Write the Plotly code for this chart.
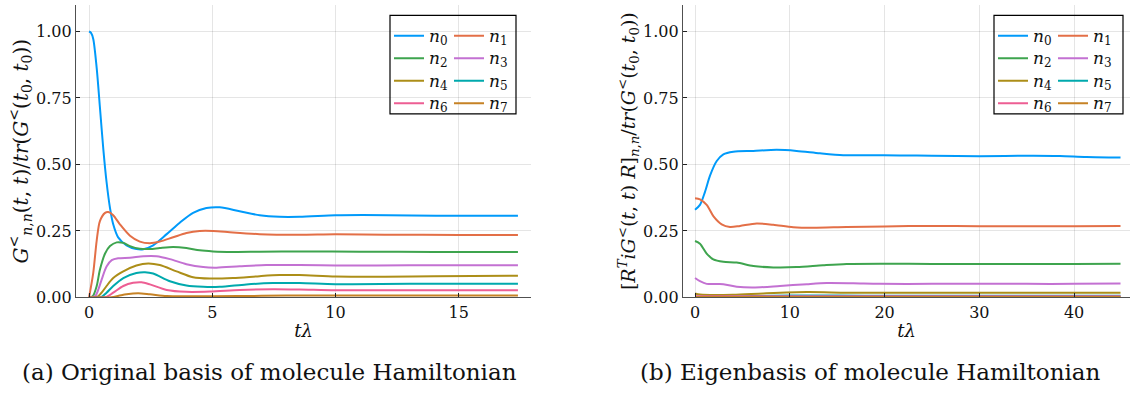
import plotly.graph_objects as go

# ---------------- data: (a) original basis ----------------
a_n0_t = [0, 0.08, 0.17, 0.31, 0.44, 0.58, 0.71, 0.85, 0.98, 1.18, 1.52, 1.92, 2.2, 2.6, 3.15, 3.68, 4.22, 4.76, 5.3, 6.11, 6.92, 7.73, 8.54, 10.0, 11.1, 13.1, 15.0, 17.4]
a_n0_v = [1.0, 0.995, 0.972, 0.862, 0.715, 0.556, 0.434, 0.336, 0.275, 0.226, 0.196, 0.182, 0.181, 0.196, 0.238, 0.281, 0.318, 0.336, 0.339, 0.324, 0.309, 0.303, 0.303, 0.309, 0.310, 0.308, 0.307, 0.307]
a_n1_t = [0, 0.17, 0.31, 0.44, 0.65, 0.78, 0.98, 1.25, 1.66, 2.06, 2.47, 2.87, 3.41, 3.95, 4.49, 5.03, 5.84, 6.92, 8.54, 10.0, 12.0, 15.0, 17.4]
a_n1_v = [0, 0.092, 0.214, 0.287, 0.318, 0.321, 0.309, 0.275, 0.232, 0.210, 0.204, 0.210, 0.226, 0.242, 0.250, 0.250, 0.244, 0.238, 0.236, 0.238, 0.236, 0.235, 0.235]
a_n2_t = [0, 0.15, 0.31, 0.44, 0.65, 0.85, 1.12, 1.39, 1.66, 2.06, 2.47, 2.87, 3.41, 3.95, 4.49, 5.03, 5.84, 6.92, 8.54, 11.0, 14.0, 17.4]
a_n2_v = [0, 0.005, 0.043, 0.104, 0.165, 0.193, 0.207, 0.205, 0.193, 0.183, 0.182, 0.186, 0.190, 0.186, 0.177, 0.173, 0.171, 0.172, 0.173, 0.172, 0.171, 0.171]
a_n3_t = [0, 0.25, 0.38, 0.51, 0.71, 0.92, 1.18, 1.66, 2.2, 2.74, 3.28, 3.95, 4.63, 5.17, 6.11, 7.19, 8.54, 10.0, 13.0, 17.4]
a_n3_v = [0, 0.005, 0.031, 0.067, 0.116, 0.140, 0.147, 0.149, 0.155, 0.155, 0.144, 0.125, 0.114, 0.112, 0.117, 0.122, 0.122, 0.120, 0.121, 0.121]
a_n4_t = [0, 0.35, 0.51, 0.71, 0.98, 1.39, 1.92, 2.4, 2.87, 3.55, 4.22, 4.9, 5.84, 6.92, 7.73, 8.54, 10.0, 12.0, 14.0, 17.4]
a_n4_v = [0, 0.003, 0.018, 0.043, 0.073, 0.098, 0.120, 0.128, 0.122, 0.098, 0.076, 0.071, 0.073, 0.080, 0.084, 0.084, 0.079, 0.078, 0.080, 0.082]
a_n5_t = [0, 0.5, 0.71, 0.98, 1.39, 1.92, 2.27, 2.6, 3.28, 3.95, 4.63, 5.3, 6.38, 7.46, 8.54, 10.0, 13.0, 17.4]
a_n5_v = [0, 0.002, 0.018, 0.043, 0.073, 0.092, 0.095, 0.090, 0.061, 0.045, 0.040, 0.040, 0.049, 0.054, 0.054, 0.050, 0.051, 0.051]
a_n6_t = [0, 0.7, 0.98, 1.39, 1.79, 2.13, 2.47, 3.15, 3.95, 4.9, 6.11, 7.46, 8.54, 10.0, 13.0, 17.4]
a_n6_v = [0, 0.002, 0.018, 0.043, 0.055, 0.057, 0.049, 0.028, 0.021, 0.022, 0.028, 0.031, 0.030, 0.027, 0.027, 0.027]
a_n7_t = [0, 0.9, 1.2, 1.52, 1.99, 2.47, 3.15, 4.0, 6.0, 8.0, 10.0, 13.0, 17.4]
a_n7_v = [0, 0.001, 0.006, 0.012, 0.016, 0.012, 0.005, 0.004, 0.005, 0.007, 0.007, 0.007, 0.007]

# ---------------- data: (b) eigenbasis ----------------
b_n0_t = [0, 0.52, 1.05, 1.58, 2.29, 2.99, 4.04, 6.15, 8.61, 10.72, 13.18, 15.64, 18.1, 21.6, 25.0, 30.0, 35.7, 38.5, 41.3, 44.9]
b_n0_v = [0.330, 0.348, 0.397, 0.458, 0.513, 0.538, 0.548, 0.551, 0.555, 0.551, 0.542, 0.535, 0.535, 0.534, 0.533, 0.531, 0.533, 0.532, 0.528, 0.526]
b_n1_t = [0, 0.52, 1.23, 1.93, 2.81, 3.69, 4.75, 6.5, 8.26, 10.37, 12.48, 16.0, 20.0, 25.0, 30.0, 35.0, 40.0, 44.9]
b_n1_v = [0.373, 0.369, 0.348, 0.306, 0.275, 0.265, 0.269, 0.278, 0.273, 0.264, 0.262, 0.265, 0.267, 0.269, 0.268, 0.268, 0.268, 0.269]
b_n2_t = [0, 0.52, 1.23, 1.93, 2.99, 4.4, 6.15, 8.26, 10.72, 13.5, 16.0, 20.0, 25.0, 30.0, 35.0, 40.0, 44.9]
b_n2_v = [0.212, 0.202, 0.165, 0.143, 0.134, 0.131, 0.118, 0.113, 0.114, 0.121, 0.126, 0.127, 0.126, 0.126, 0.126, 0.126, 0.127]
b_n3_t = [0, 0.52, 1.23, 2.99, 4.4, 6.15, 8.96, 11.8, 13.9, 16.7, 19.5, 25.0, 30.0, 35.0, 40.0, 44.9]
b_n3_v = [0.073, 0.061, 0.051, 0.050, 0.040, 0.037, 0.043, 0.050, 0.054, 0.053, 0.051, 0.051, 0.051, 0.051, 0.051, 0.052]
b_n4_t = [0, 0.52, 4.0, 7.2, 11.8, 16.0, 20.0, 30.0, 40.0, 44.9]
b_n4_v = [0.015, 0.011, 0.010, 0.015, 0.020, 0.018, 0.018, 0.018, 0.018, 0.018]
b_n5_t = [0, 3.0, 6.0, 10.0, 15.0, 20.0, 30.0, 44.9]
b_n5_v = [0.003, 0.003, 0.005, 0.007, 0.007, 0.006, 0.006, 0.006]
b_n6_t = [0, 10.0, 20.0, 30.0, 44.9]
b_n6_v = [0.004, 0.004, 0.004, 0.004, 0.004]
b_n7_t = [0, 10.0, 20.0, 30.0, 44.9]
b_n7_v = [0.002, 0.002, 0.002, 0.002, 0.002]

series_a = [(a_n0_t, a_n0_v), (a_n1_t, a_n1_v), (a_n2_t, a_n2_v), (a_n3_t, a_n3_v),
            (a_n4_t, a_n4_v), (a_n5_t, a_n5_v), (a_n6_t, a_n6_v), (a_n7_t, a_n7_v)]
series_b = [(b_n0_t, b_n0_v), (b_n1_t, b_n1_v), (b_n2_t, b_n2_v), (b_n3_t, b_n3_v),
            (b_n4_t, b_n4_v), (b_n5_t, b_n5_v), (b_n6_t, b_n6_v), (b_n7_t, b_n7_v)]

colors = ["#009AFA", "#E36F47", "#3EA44E", "#C371D2", "#AC8E18", "#00A9AD", "#ED5E93", "#C68225"]
y_ticks = [0, 0.25, 0.5, 0.75, 1.0]
y_ticktext = ["0.00", "0.25", "0.50", "0.75", "1.00"]
xa_ticks = [0, 5, 10, 15]
xb_ticks = [0, 10, 20, 30, 40]

FONT = "DejaVu Serif"
W, H = 1131, 403

def name(i):
    return ("<span style='font-size:17px'><i>n</i></span>"
            "<sub><span style='font-size:12px'>%d</span></sub>" % i)

fig = go.Figure()
for i, (t, v) in enumerate(series_a):
    fig.add_trace(go.Scatter(x=t, y=v, mode="lines", name=name(i),
                             line=dict(color=colors[i], width=2, shape="spline", smoothing=0.8),
                             xaxis="x", yaxis="y",
                             legend="legend" if i % 2 == 0 else "legend2"))
for i, (t, v) in enumerate(series_b):
    fig.add_trace(go.Scatter(x=t, y=v, mode="lines", name=name(i),
                             line=dict(color=colors[i], width=2, shape="spline", smoothing=0.8),
                             xaxis="x2", yaxis="y2",
                             legend="legend3" if i % 2 == 0 else "legend4"))

ydom = [(H - 305) / H, (H - 5) / H]
axis_common = dict(showline=True, linecolor="#505050", linewidth=1.2, mirror=False,
                   showgrid=True, gridcolor="rgba(0,0,0,0.1)", gridwidth=1,
                   zeroline=False, ticks="inside", ticklen=4, tickcolor="#222",
                   tickfont=dict(family=FONT, size=16, color="#111"))

ylab_a = ("<i>G</i><sup>&lt;</sup><sub><i>n</i>,<i>n</i></sub>(<i>t</i>, <i>t</i>)/<i>tr</i>"
          "(<i>G</i><sup>&lt;</sup>(<i>t</i><sub>0</sub>, <i>t</i><sub>0</sub>))")
ylab_b = ("[<i>R</i><sup><i>T</i></sup><i>iG</i><sup>&lt;</sup>(<i>t</i>, <i>t</i>) <i>R</i>]"
          "<sub><i>n</i>,<i>n</i></sub>/<i>tr</i>(<i>G</i><sup>&lt;</sup>(<i>t</i><sub>0</sub>, <i>t</i><sub>0</sub>))")

fig.update_layout(
    width=W, height=H, margin=dict(l=0, r=0, t=0, b=0),
    paper_bgcolor="white", plot_bgcolor="white",
    font=dict(family=FONT, color="#111"),
    xaxis=dict(domain=[76 / W, 531 / W], range=[-0.53, 17.93], tickvals=xa_ticks,
               title=dict(text="<i>tλ</i>", font=dict(family=FONT, size=18), standoff=3),
               anchor="y", **axis_common),
    yaxis=dict(domain=ydom, range=[0, 1.1], tickvals=y_ticks, ticktext=y_ticktext,
               title=dict(text=ylab_a, font=dict(family=FONT, size=20), standoff=2),
               anchor="x", **axis_common),
    xaxis2=dict(domain=[683 / W, 1130 / W], range=[-1.27, 45.9], tickvals=xb_ticks,
                title=dict(text="<i>tλ</i>", font=dict(family=FONT, size=18), standoff=3),
                anchor="y2", **axis_common),
    yaxis2=dict(domain=ydom, range=[0, 1.1], tickvals=y_ticks, ticktext=y_ticktext,
                title=dict(text=ylab_b, font=dict(family=FONT, size=19), standoff=2),
                anchor="x2", **axis_common),
)

leg_common = dict(bgcolor="rgba(0,0,0,0)", borderwidth=0, xanchor="left", yanchor="top",
                  font=dict(family=FONT, size=15, color="#111"), tracegroupgap=0)
fig.update_layout(
    legend=dict(x=389 / W, y=1 - 20 / H, **leg_common),
    legend2=dict(x=449 / W, y=1 - 20 / H, **leg_common),
    legend3=dict(x=993 / W, y=1 - 20 / H, **leg_common),
    legend4=dict(x=1053 / W, y=1 - 20 / H, **leg_common),
)

# legend frames
for (x0, x1) in [(390, 516), (994, 1123)]:
    fig.add_shape(type="rect", xref="paper", yref="paper",
                  x0=x0 / W, x1=x1 / W, y0=1 - 116.7 / H, y1=1 - 15.7 / H,
                  line=dict(color="black", width=1.2), fillcolor="white", layer="below")

# captions
fig.add_annotation(text="(a) Original basis of molecule Hamiltonian", xref="paper", yref="paper",
                   x=269 / W, y=1 - 381 / H, showarrow=False, xanchor="center", yanchor="middle",
                   font=dict(family=FONT, size=23, color="#111"))
fig.add_annotation(text="(b) Eigenbasis of molecule Hamiltonian", xref="paper", yref="paper",
                   x=870 / W, y=1 - 381 / H, showarrow=False, xanchor="center", yanchor="middle",
                   font=dict(family=FONT, size=23, color="#111"))

fig.write_html("out.html")
